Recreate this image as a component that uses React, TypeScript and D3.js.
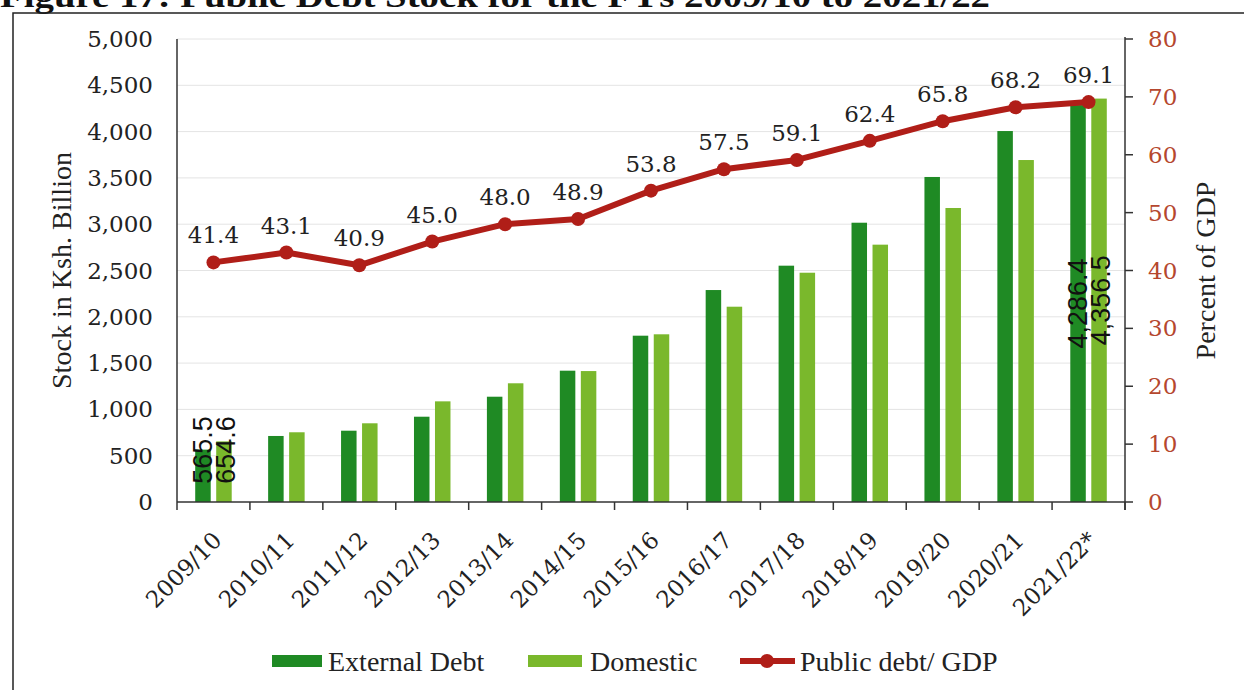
import React from 'react';
import * as d3 from 'd3';

const categories = ['2009/10', '2010/11', '2011/12', '2012/13', '2013/14', '2014/15', '2015/16', '2016/17', '2017/18', '2018/19', '2019/20', '2020/21', '2021/22*'];
const externalDebt = [565.5, 713, 770, 921, 1137, 1418, 1796, 2289, 2552, 3016, 3510, 4006, 4286.4];
const domesticDebt = [654.6, 753, 850, 1087, 1282, 1414, 1811, 2109, 2476, 2779, 3175, 3693, 4356.5];
const debtToGdp = [41.4, 43.1, 40.9, 45.0, 48.0, 48.9, 53.8, 57.5, 59.1, 62.4, 65.8, 68.2, 69.1];
const leftTicks = [0, 500, 1000, 1500, 2000, 2500, 3000, 3500, 4000, 4500, 5000];
const rightTicks = [0, 10, 20, 30, 40, 50, 60, 70, 80];
const barLabels: Record<number, [string, string]> = { 0: ['565.5', '654.6'], 12: ['4,286.4', '4,356.5'] };

const W = 1244, H = 690;
const plot = { left: 177, right: 1125, top: 39, bottom: 502 };
const EXT = '#1f8a24';
const DOM = '#7ab82c';
const RED = '#b01e18';
const RUST = '#b5472e';
const serif = '"DejaVu Serif", Georgia, serif';
const lserif = '"Liberation Serif", "Times New Roman", serif';
const sans = '"Liberation Sans", Arial, sans-serif';

export default function App() {
  const x = d3.scaleBand<string>().domain(categories).range([plot.left, plot.right]);
  const yL = d3.scaleLinear().domain([0, 5000]).range([plot.bottom, plot.top]);
  const yR = d3.scaleLinear().domain([0, 80]).range([plot.bottom, plot.top]);
  const bw = 15.5;
  const off = 10.5;
  const cx = (c: string) => (x(c) as number) + x.bandwidth() / 2;

  const line = d3.line<number>().x((_, i) => cx(categories[i])).y((d) => yR(d));

  const labelFont = 27;
  const barLabelCenter = (v: number, txt: string) => {
    const half = (txt.length * 0.52 * labelFont) / 2;
    const mid = (yL(0) + yL(v)) / 2;
    return Math.min(mid, yL(0) - 17 - half);
  };

  return (
    <svg width={W} height={H} style={{ position: 'absolute', left: 0, top: 0, background: '#fff' }}>
      <rect x={0} y={0} width={W} height={H} fill="#fff" />
      {/* title (cropped at top) */}
      <text x={0} y={7} fontFamily={lserif} fontWeight="bold" fontSize={32} textLength={990} lengthAdjust="spacingAndGlyphs" fill="#111">
        Figure 17: Public Debt Stock for the FYs 2009/10 to 2021/22
      </text>
      {/* frame */}
      <rect x={13} y={13} width={W} height={H} fill="none" stroke="#222" strokeWidth={1.5} />

      {/* gridlines */}
      {leftTicks.slice(1).map((t) => (
        <line key={'g' + t} x1={plot.left} x2={plot.right} y1={yL(t)} y2={yL(t)} stroke="#e4e4e4" strokeWidth={1} />
      ))}

      {/* bars */}
      {categories.map((c, i) => (
        <g key={'b' + c}>
          <rect x={cx(c) - off - bw / 2} y={yL(externalDebt[i])} width={bw} height={yL(0) - yL(externalDebt[i])} fill={EXT} />
          <rect x={cx(c) + off - bw / 2} y={yL(domesticDebt[i])} width={bw} height={yL(0) - yL(domesticDebt[i])} fill={DOM} />
        </g>
      ))}

      {/* axes */}
      <line x1={plot.left} x2={plot.left} y1={plot.top} y2={plot.bottom + 8} stroke="#333" strokeWidth={1.5} />
      <line x1={plot.right} x2={plot.right} y1={plot.top - 2} y2={plot.bottom + 8} stroke="#333" strokeWidth={1.5} />
      <line x1={plot.left} x2={plot.right} y1={plot.bottom} y2={plot.bottom} stroke="#333" strokeWidth={1.5} />
      {categories.map((c) => (
        <line key={'xt' + c} x1={(x(c) as number) + x.bandwidth()} x2={(x(c) as number) + x.bandwidth()} y1={plot.bottom} y2={plot.bottom + 8} stroke="#333" strokeWidth={1.5} />
      ))}
      {rightTicks.map((t) => (
        <line key={'rt' + t} x1={plot.right} x2={plot.right + 8} y1={yR(t)} y2={yR(t)} stroke="#333" strokeWidth={1.5} />
      ))}

      {/* left tick labels */}
      {leftTicks.map((t) => (
        <text key={'lt' + t} x={153} y={yL(t)} dy="0.35em" textAnchor="end" fontFamily={serif} fontSize={23} fill="#222">
          {d3.format(',')(t)}
        </text>
      ))}
      {/* right tick labels */}
      {rightTicks.map((t) => (
        <text key={'rl' + t} x={1148} y={yR(t)} dy="0.35em" textAnchor="start" fontFamily={serif} fontSize={23} fill={RUST}>
          {t}
        </text>
      ))}

      {/* axis titles */}
      <text transform={`translate(61,${(plot.top + plot.bottom) / 2}) rotate(-90)`} dy="0.35em" textAnchor="middle" fontFamily={lserif} fontSize={28} textLength={237} lengthAdjust="spacingAndGlyphs" fill="#222">
        Stock in Ksh. Billion
      </text>
      <text transform={`translate(1205,${(plot.top + plot.bottom) / 2}) rotate(-90)`} dy="0.35em" textAnchor="middle" fontFamily={lserif} fontSize={28} textLength={178} lengthAdjust="spacingAndGlyphs" fill="#222">
        Percent of GDP
      </text>

      {/* x labels */}
      {categories.map((c) => (
        <text key={'xl' + c} transform={`translate(${cx(c) + 4},${plot.bottom + 34}) rotate(-45)`} dy="0.35em" textAnchor="end" fontFamily={serif} fontSize={23} fill="#222">
          {c}
        </text>
      ))}

      {/* bar value labels */}
      {Object.keys(barLabels).map((k) => {
        const i = +k;
        const c = categories[i];
        const [le, ld] = barLabels[i];
        const ye = barLabelCenter(externalDebt[i], le);
        const yd = barLabelCenter(domesticDebt[i], ld);
        return (
          <g key={'bl' + k}>
            <text transform={`translate(${cx(c) - off},${ye}) rotate(-90)`} dy="0.35em" textAnchor="middle" fontFamily={sans} fontSize={labelFont} fill="#111">{le}</text>
            <text transform={`translate(${cx(c) + off + 2},${yd}) rotate(-90)`} dy="0.35em" textAnchor="middle" fontFamily={sans} fontSize={labelFont} fill="#111">{ld}</text>
          </g>
        );
      })}

      {/* line */}
      <path d={line(debtToGdp) as string} fill="none" stroke={RED} strokeWidth={6} strokeLinejoin="round" />
      {debtToGdp.map((v, i) => (
        <circle key={'m' + i} cx={cx(categories[i])} cy={yR(v)} r={7} fill={RED} />
      ))}
      {debtToGdp.map((v, i) => (
        <text key={'ll' + i} x={cx(categories[i])} y={yR(v) - 19} textAnchor="middle" fontFamily={serif} fontSize={23} fill="#222">
          {v.toFixed(1)}
        </text>
      ))}

      {/* legend */}
      <rect x={272} y={655} width={50} height={12} fill={EXT} />
      <text x={328} y={661} dy="0.35em" fontFamily={lserif} fontSize={28} fill="#222">External Debt</text>
      <rect x={528} y={655} width={54} height={12} fill={DOM} />
      <text x={590} y={661} dy="0.35em" fontFamily={lserif} fontSize={28} fill="#222">Domestic</text>
      <line x1={740} x2={795} y1={661} y2={661} stroke={RED} strokeWidth={6} />
      <circle cx={767} cy={661} r={7} fill={RED} />
      <text x={800} y={661} dy="0.35em" fontFamily={lserif} fontSize={28} fill="#222">Public debt/ GDP</text>
    </svg>
  );
}
